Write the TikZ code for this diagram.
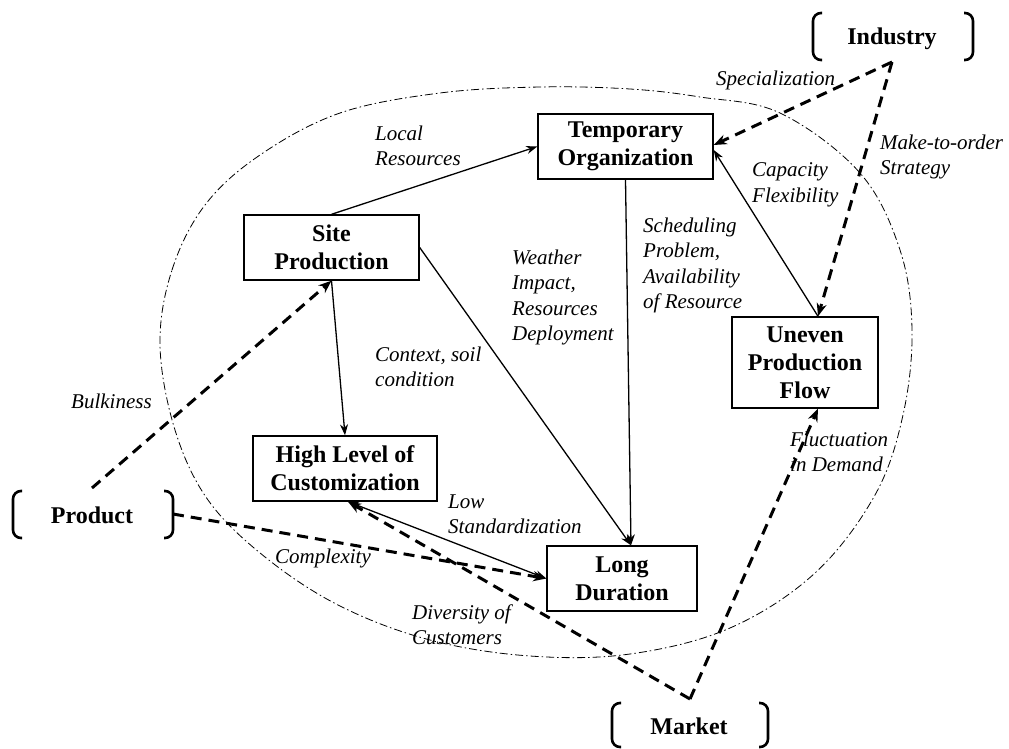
\documentclass[tikz,border=0pt]{standalone}
\usepackage{fontspec}
\setmainfont{Liberation Serif}
\usetikzlibrary{arrows.meta}

\begin{document}
\begin{tikzpicture}[x=1pt,y=-1pt,
  box/.style={draw, line width=1.4pt, align=center,
    font=\fontsize{24}{28}\selectfont\bfseries, inner sep=0pt},
  % multi-line labels are placed by the baseline of their last line
  lbl/.style={align=left, font=\fontsize{21}{25.5}\selectfont\itshape,
    inner sep=0pt, anchor=base west},
  brk/.style={font=\fontsize{24}{28}\selectfont\bfseries, inner sep=0pt, anchor=base},
  brace/.style={line width=2.6pt, rounded corners=8pt},
  link/.style={line width=1.3pt, -{Stealth[length=11pt,width=8pt]}},
  dlink/.style={line width=3pt, dash pattern=on 11pt off 7pt,
    -{Stealth[length=13pt,width=10pt]}},
  ring/.style={line width=0.8pt, dash pattern=on 8pt off 3pt on 1.5pt off 3pt},
]
\useasboundingbox (0,0) rectangle (1009,749);

% dash-dot boundary
\draw[ring] plot[smooth cycle, tension=0.6] coordinates {
  (160,345) (172,270) (205,205) (260,155) (340,113) (440,93) (540,87)
  (630,89) (700,97) (780,113) (860,173) (900,250) (912,330) (903,415)
  (875,495) (815,573) (730,628) (630,654) (530,656) (430,640) (340,606)
  (265,557) (208,500) (175,430)};

% boxes
\node[box, minimum width=175pt, minimum height=65pt] (to)  at (625.5,146.5) {Temporary\\Organization};
\node[box, minimum width=175pt, minimum height=65pt] (sp)  at (331.5,247.5) {Site\\Production};
\node[box, minimum width=146pt, minimum height=91pt] (upf) at (805,362.5) {Uneven\\Production\\Flow};
\node[box, minimum width=184pt, minimum height=65pt] (hlc) at (345,468.5) {High Level of\\Customization};
\node[box, minimum width=150pt, minimum height=65pt] (ld)  at (622,578.5) {Long\\Duration};

% external factors in brackets
\node[brk] (ind) at (892,45) {Industry};
\node[brk] (prd) at (92,523) {Product};
\node[brk] (mkt) at (689,734) {Market};
\draw[brace] (822,13) -- (813,13) -- (813,60) -- (822,60);
\draw[brace] (964,13) -- (973,13) -- (973,60) -- (964,60);
\draw[brace] (22,491) -- (13,491) -- (13,538) -- (22,538);
\draw[brace] (164,491) -- (173,491) -- (173,538) -- (164,538);
\draw[brace] (621,703) -- (612,703) -- (612,747) -- (621,747);
\draw[brace] (759,703) -- (768,703) -- (768,747) -- (759,747);

% connector end points
\coordinate (indv)  at (892,62);
\coordinate (mktv)  at (690,699);
\coordinate (pbulk) at (92,488);
\coordinate (pright) at (173,514);
\coordinate (ldtop) at ([xshift=9pt]ld.north);
\coordinate (upfn)  at ([xshift=13pt]upf.north);
\coordinate (upfs)  at ([xshift=13pt]upf.south);
\coordinate (hlcs)  at ([xshift=3pt]hlc.south);

% solid relations
\draw[link] (sp.north) -- (to.west);
\draw[link] (to.south) -- (ldtop);
\draw[link] (sp.east) -- (ldtop);
\draw[link] (sp.south) -- (hlc.north);
\draw[link] (upfn) -- ([yshift=-3.5pt]to.east);
\draw[link, {Stealth[length=11pt,width=8pt]}-{Stealth[length=11pt,width=8pt]}] (hlcs) -- (ld.west);

% dashed external influences
\draw[dlink] (indv) -- ([yshift=1.5pt]to.east);
\draw[dlink] (indv) -- (upfn);
\draw[dlink] (pbulk) -- (sp.south);
\draw[dlink] (pright) -- (ld.west);
\draw[dlink] (mktv) -- (hlcs);
\draw[dlink] (mktv) -- (upfs);

% relation labels
\node[lbl] (l1)  at (716,86)    {Specialization};
\node[lbl] (l2)  at (880,175)   {Make-to-order\\Strategy};
\node[lbl] (l3)  at (375,165.5) {Local\\Resources};
\node[lbl] (l4)  at (752,202)   {Capacity\\Flexibility};
\node[lbl] (l5)  at (643,308.5) {Scheduling\\Problem,\\Availability\\of Resource};
\node[lbl] (l6)  at (512,340.5) {Weather\\Impact,\\Resources\\Deployment};
\node[lbl] (l7)  at (375,386.5) {Context, soil\\condition};
\node[lbl] (l8)  at (71,408)    {Bulkiness};
\node[lbl] (l9)  at (448,533.5) {Low\\Standardization};
\node[lbl] (l10) at (275,563)   {Complexity};
\node[lbl] (l11) at (790,471.5) {Fluctuation\\in Demand};
\node[lbl] (l12) at (412,644.5) {Diversity of\\Customers};
\end{tikzpicture}
\end{document}
